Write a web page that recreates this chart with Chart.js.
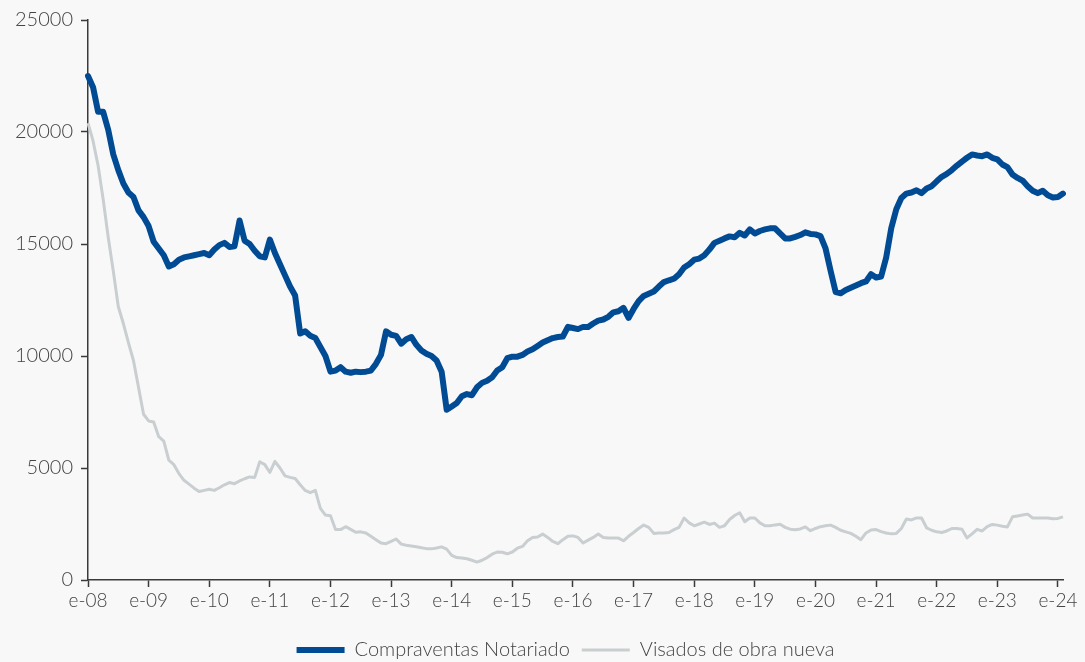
<!DOCTYPE html>
<html>
<head>
<meta charset="utf-8">
<script src="https://cdn.jsdelivr.net/npm/chart.js@4.4.1/dist/chart.umd.min.js"></script>
<style>
  html, body { margin: 0; padding: 0; background: #f8f8f8; }
  #wrap { width: 1085px; height: 662px; position: relative; }
</style>
</head>
<body>
<div id="wrap"><canvas id="chart"></canvas></div>
<script>
// ---------- Data (monthly, e-08 .. f-24) ----------
const years = ['08','09','10','11','12','13','14','15','16','17','18','19','20','21','22','23','24'];
const monthAbbr = ['e','f','m','a','m','j','j','a','s','o','n','d'];

const compraventas = [
  22500, 22000, 20900, 20900, 20100, 19000, 18300, 17700, 17300, 17100, 16500, 16200,
  15800, 15100, 14800, 14500, 14000, 14100, 14300, 14400, 14450, 14500, 14550, 14600,
  14500, 14750, 14950, 15050, 14870, 14900, 16050, 15150, 15000, 14700, 14450, 14400,
  15200, 14600, 14100, 13600, 13100, 12700, 11000, 11100, 10900, 10800, 10400, 10000,
  9300, 9350, 9500, 9300, 9250, 9300, 9280, 9300, 9350, 9650, 10050, 11100,
  10950, 10900, 10550, 10750, 10850, 10500, 10250, 10100, 10000, 9800, 9300, 7600,
  7750, 7900, 8200, 8300, 8250, 8600, 8800, 8900, 9050, 9350, 9500, 9900,
  9970, 9970, 10050, 10200, 10300, 10450, 10600, 10700, 10800, 10850, 10870, 11300,
  11250, 11200, 11300, 11300, 11450, 11580, 11630, 11750, 11950, 12000, 12150, 11700,
  12100, 12450, 12680, 12780, 12880, 13100, 13300, 13380, 13450, 13650, 13950, 14100,
  14300, 14350, 14500, 14750, 15050, 15150, 15250, 15340, 15300, 15500, 15380, 15650,
  15470, 15580, 15650, 15700, 15700, 15470, 15250, 15250, 15320, 15400, 15520, 15450,
  15430, 15350, 14800, 13800, 12850, 12800, 12950, 13050, 13150, 13250, 13330, 13650,
  13500, 13550, 14400, 15700, 16550, 17050, 17250, 17300, 17400, 17270, 17480, 17580,
  17800, 18000, 18130, 18300, 18500, 18680, 18850, 19000, 18950, 18920, 19000, 18850,
  18780, 18550, 18430, 18100, 17950, 17830, 17580, 17380, 17270, 17380, 17180, 17080,
  17100, 17250
];

const visados = [
  20400, 19600, 18500, 17000, 15300, 13800, 12200, 11450, 10600, 9800, 8600, 7400,
  7100, 7050, 6400, 6200, 5350, 5150, 4750, 4450, 4280, 4100, 3950, 4000,
  4050, 4000, 4120, 4250, 4350, 4300, 4420, 4520, 4600, 4580, 5280, 5150,
  4800, 5300, 5000, 4650, 4580, 4530, 4250, 4000, 3900, 4000, 3200, 2900,
  2870, 2250, 2250, 2380, 2260, 2130, 2150, 2100, 1950, 1800, 1650, 1620,
  1720, 1830, 1600, 1550, 1520, 1480, 1440, 1400, 1390, 1430, 1480, 1380,
  1100, 1000, 980, 950, 880, 800, 880, 1000, 1150, 1250, 1240, 1170,
  1250, 1420, 1500, 1750, 1900, 1920, 2050, 1900, 1720, 1620, 1800, 1950,
  1970, 1900, 1650, 1780, 1900, 2050, 1900, 1880, 1880, 1870, 1750, 1950,
  2120, 2300, 2450, 2350, 2080, 2100, 2100, 2120, 2250, 2350, 2770, 2550,
  2420, 2500, 2580, 2480, 2540, 2350, 2420, 2700, 2880, 3000, 2600, 2770,
  2770, 2550, 2420, 2420, 2460, 2490, 2350, 2270, 2240, 2280, 2370, 2200,
  2300, 2380, 2420, 2450, 2350, 2220, 2150, 2080, 1950, 1800, 2100, 2230,
  2250, 2160, 2100, 2060, 2080, 2300, 2720, 2680, 2770, 2770, 2330, 2220,
  2150, 2120, 2190, 2300, 2300, 2270, 1880, 2060, 2260, 2190, 2380, 2480,
  2450, 2400, 2370, 2820, 2860, 2900, 2940, 2770, 2770, 2770, 2770, 2730,
  2750, 2820
];

const yTicks = [0, 5000, 10000, 15000, 20000, 25000];

// labels: one per month
const labels = [];
years.forEach(y => monthAbbr.forEach(m => labels.push(m + '-' + y)));
labels.length = compraventas.length;

const FONT = 'Lato, "DejaVu Sans", sans-serif';
const AXIS = '#3a3a3a';

// nudge the legend a bit right / down to sit where the original one is
const legendShift = {
  id: 'legendShift',
  afterLayout(chart) {
    const lg = chart.legend;
    if (!lg) return;
    lg.left += 34; lg.right += 34;
    lg.top += 8; lg.bottom += 8;
  }
};

new Chart(document.getElementById('chart'), {
  type: 'line',
  data: {
    labels,
    datasets: [
      { label: 'Compraventas Notariado', data: compraventas, borderColor: '#004b93', backgroundColor: '#004b93',
        borderWidth: 6, pointRadius: 0, pointStyle: 'line', tension: 0, borderJoinStyle: 'round', borderCapStyle: 'round' },
      { label: 'Visados de obra nueva', data: visados, borderColor: '#c9ced1', backgroundColor: '#c9ced1',
        borderWidth: 3, pointRadius: 0, pointStyle: 'line', tension: 0, borderJoinStyle: 'round' }
    ]
  },
  plugins: [legendShift],
  options: {
    responsive: true, maintainAspectRatio: false, animation: false,
    layout: { padding: { top: 10, right: 22, left: 0, bottom: 0 } },
    plugins: {
      tooltip: { enabled: false },
      legend: {
        position: 'bottom',
        labels: { font: { family: FONT, size: 20, weight: 300 }, color: '#444',
          usePointStyle: true, pointStyle: 'line', pointStyleWidth: 48, boxHeight: 6, padding: 12 }
      }
    },
    scales: {
      x: {
        border: { color: AXIS, width: 1.5 },
        grid: { drawOnChartArea: false, tickLength: 7, tickWidth: 1.5,
          tickColor: c => (c.index % 12 === 0 ? AXIS : 'rgba(0,0,0,0)') },
        ticks: { autoSkip: false, maxRotation: 0, padding: 2, color: '#444',
          font: { family: FONT, size: 19, weight: 300 },
          callback: (v, i) => (i % 12 === 0 ? labels[i] : '') },
        afterFit: s => { s.height = 40; }
      },
      y: {
        min: 0, max: 25000,
        border: { color: AXIS, width: 1.5 },
        grid: { drawOnChartArea: false, tickLength: 7, tickWidth: 1.5, tickColor: AXIS },
        afterBuildTicks: s => { s.ticks = yTicks.map(v => ({ value: v })); },
        ticks: { padding: 8, color: '#444', font: { family: FONT, size: 20, weight: 300 },
          callback: v => String(v) },
        afterFit: s => { s.width = 88; }
      }
    }
  }
});
</script>
</body>
</html>
